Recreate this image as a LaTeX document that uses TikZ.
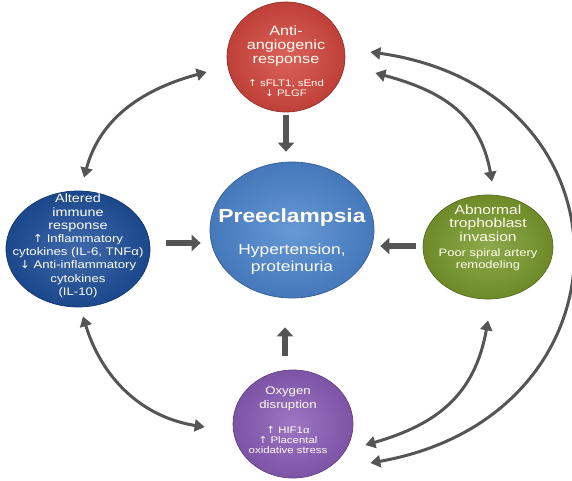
\documentclass[tikz,border=0pt]{standalone}
\usepackage{fontspec}
\setmainfont{Liberation Sans}[FakeStretch=1.2]
\newfontfamily\arrowfont{DejaVu Sans}[FakeStretch=1.1]
\usetikzlibrary{arrows.meta,shapes.geometric}
\definecolor{antired}{HTML}{D4473F}
\definecolor{preblue}{HTML}{4C86CF}
\definecolor{immblue}{HTML}{1E4F9B}
\definecolor{trogreen}{HTML}{7A9A2C}
\definecolor{oxypurple}{HTML}{8B5DB8}
\definecolor{arrowgray}{HTML}{555555}
\newcommand{\arrup}{{\arrowfont\char"2191}}
\newcommand{\arrdn}{{\arrowfont\char"2193}}
\newcommand{\txtsize}[2]{\fontsize{#1}{#2}\selectfont}

\begin{document}
\begin{tikzpicture}[x=1pt, y=1pt,
  bubble/.style={ellipse, draw=#1!70!black, line width=0.7pt,
    inner color=#1!85!white, outer color=#1!90!black, inner sep=0pt},
  ttl/.style={text=white!94!yellow, align=center, inner sep=0pt},
  blk/.style={-{Triangle[length=9pt,width=16pt]}, line width=6.5pt, draw=arrowgray},
  link/.style={{Triangle[length=10pt,width=12pt]}-{Triangle[length=10pt,width=12pt]},
    line width=3pt, draw=arrowgray}
]
\useasboundingbox (0,0) rectangle (572,480);

%─── BUBBLES ─────────────────────────────────────────────────────────────────
\node[bubble=preblue,   minimum width=164pt, minimum height=136pt] (pre)  at (292,250) {};
\node[bubble=antired,   minimum width=118pt, minimum height=110pt] (anti) at (286,423) {};
\node[bubble=immblue,   minimum width=144pt, minimum height=116pt] (imm)  at (78,231)  {};
\node[bubble=trogreen,  minimum width=130pt, minimum height=104pt] (tro)  at (488,233) {};
\node[bubble=oxypurple, minimum width=120pt, minimum height=108pt] (oxy)  at (293,56)  {};

%─── TEXTS ───────────────────────────────────────────────────────────────────
\node[ttl, font=\bfseries\txtsize{19}{22}] (preT) at (292,262) {Preeclampsia};
\node[ttl, font=\txtsize{14.5}{17}] (preS) at (292,221) {Hypertension,\\proteinuria};

\node[ttl, font=\txtsize{13.5}{14}] (antiT) at (286,434) {Anti-\\angiogenic\\response};
\node[ttl, font=\txtsize{9.5}{10.5}] (antiS) at (286,392) {\arrup{} sFLT1, sEnd\\\arrdn{} PLGF};

\node[ttl, font=\txtsize{12}{13.3}] (immT) at (78,267) {Altered\\immune\\response};
\node[ttl, font=\txtsize{11}{13.3}] (immS) at (78,214) {%
  \arrup{} Inflammatory\\cytokines (IL-6, TNFα)\\\arrdn{} Anti-inflammatory\\
  cytokines\\(IL-10)};

\node[ttl, font=\txtsize{13}{13.5}] (troT) at (488,257) {Abnormal\\trophoblast\\invasion};
\node[ttl, font=\txtsize{10.8}{12}] (troS) at (488,220) {Poor spiral artery\\remodeling};

\node[ttl, font=\txtsize{11}{14}] (oxyT) at (288,81) {Oxygen\\disruption};
\node[ttl, font=\txtsize{9.5}{10}] (oxyS) at (288,40) {\arrup{} HIF1α\\\arrup{} Placental\\oxidative stress};

%─── ARROWS TO PREECLAMPSIA ──────────────────────────────────────────────────
\draw[blk, shorten <=3pt, shorten >=10pt] (anti.south) -- (anti.south |- pre.north);
\draw[blk, shorten <=14pt, shorten >=29pt] ([xshift=-8pt]oxy.north) -- ([xshift=-8pt]oxy.north |- pre.south);
\draw[blk, shorten <=16pt, shorten >=9pt] ([yshift=6pt]imm.east) -- ([yshift=6pt]imm.east -| pre.west);
\draw[blk, shorten <=7pt, shorten >=6pt] ([yshift=1pt]tro.west) -- ([yshift=1pt]tro.west -| pre.east);

%─── FEEDBACK LOOPS ──────────────────────────────────────────────────────────
% L1 — anti-angiogenic <-> immune
\draw[link] ([shift={(-20,-15)}]anti.west) to[out=195, in=75] ([shift={(6,13)}]imm.north);

% L2 — immune <-> oxygen
\draw[link] ([shift={(5,-9)}]imm.south) to[out=287, in=171] ([shift={(-28,-3)}]oxy.west);

% L3 — anti-angiogenic <-> trophoblast
\draw[link] ([shift={(30,-16)}]anti.east) to[out=-15, in=100, looseness=1.1] ([shift={(4,13)}]tro.north);

% L4 — trophoblast <-> oxygen
\draw[link] ([shift={(0,-21)}]tro.south) to[out=260, in=16, looseness=1.1] ([shift={(12,-21)}]oxy.east);

% L5 — anti-angiogenic <-> oxygen (outer arc)
\draw[link] ([shift={(25,5)}]anti.east) to[out=-8, in=10, looseness=1.7] ([shift={(17,-39)}]oxy.east);

\end{tikzpicture}
\end{document}
